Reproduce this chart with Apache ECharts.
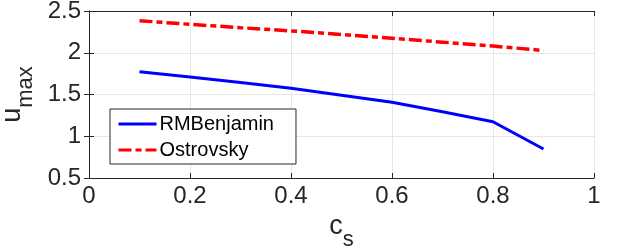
<!DOCTYPE html>
<html>
<head>
<meta charset="utf-8">
<script src="https://cdn.jsdelivr.net/npm/echarts@6/dist/echarts.min.js"></script>
<style>
html,body{margin:0;padding:0;background:#fff;}
#chart{width:623px;height:252px;}
</style>
</head>
<body>
<div id="chart"></div>
<script>
const cs = [0.1, 0.2, 0.3, 0.4, 0.5, 0.6, 0.7, 0.8, 0.9];
const rmBenjamin = [1.773, 1.71, 1.645, 1.574, 1.49, 1.406, 1.294, 1.174, 0.847];
const ostrovsky = [2.384, 2.34, 2.30, 2.262, 2.218, 2.173, 2.127, 2.08, 2.027];
const seriesNames = ['RMBenjamin', 'Ostrovsky'];
const xTicks = [0, 0.2, 0.4, 0.6, 0.8, 1];
const yTicks = [0.5, 1, 1.5, 2, 2.5];

const FONT = '"Liberation Sans", Arial, Helvetica, sans-serif';
const AX = '#262626';

const chart = echarts.init(document.getElementById('chart'), null, {renderer: 'canvas'});

function fmt(v) { return String(Math.round(v * 10) / 10); }

const option = {
  animation: false,
  backgroundColor: '#fff',
  grid: {left: 89, right: 29, top: 11, bottom: 74, containLabel: false, outerBoundsMode: 'none'},
  legend: {
    left: 110, top: 109,
    orient: 'vertical',
    data: seriesNames,
    backgroundColor: '#fff',
    borderColor: AX,
    borderWidth: 1,
    borderRadius: 0,
    padding: [5, 22, 4, 7],
    itemWidth: 38,
    itemHeight: 20,
    itemGap: 6,
    itemStyle: {opacity: 0},
    lineStyle: {width: 3},
    textStyle: {fontFamily: FONT, fontSize: 20, color: '#000', padding: [0, 0, 0, -2]}
  },
  xAxis: [{
    type: 'value', min: xTicks[0], max: xTicks[xTicks.length - 1], interval: 0.2,
    position: 'bottom',
    axisLine: {show: true, lineStyle: {color: AX, width: 1}},
    axisTick: {show: true, inside: true, length: 5, lineStyle: {color: AX}},
    splitLine: {show: true, lineStyle: {color: '#e6e6e6', width: 1}},
    axisLabel: {fontFamily: FONT, fontSize: 24, color: AX, margin: 6, formatter: fmt},
    name: '{m|c}{s|s}',
    nameLocation: 'middle',
    nameGap: 34,
    nameTextStyle: {
      fontFamily: FONT,
      rich: {
        m: {fontFamily: FONT, fontSize: 27, color: AX, verticalAlign: 'top'},
        s: {fontFamily: FONT, fontSize: 22, color: AX, padding: [16, 0, 0, 0], verticalAlign: 'top'}
      }
    }
  }, {
    type: 'value', min: xTicks[0], max: xTicks[xTicks.length - 1], interval: 0.2,
    position: 'top',
    axisLine: {show: true, lineStyle: {color: AX, width: 1}},
    axisTick: {show: true, inside: true, length: 5, lineStyle: {color: AX}},
    splitLine: {show: false},
    axisLabel: {show: false}
  }],
  yAxis: [{
    type: 'value', min: yTicks[0], max: yTicks[yTicks.length - 1], interval: 0.5,
    position: 'left',
    axisLine: {show: true, lineStyle: {color: AX, width: 1}},
    axisTick: {show: true, inside: true, length: 5, lineStyle: {color: AX}},
    splitLine: {show: true, lineStyle: {color: '#e6e6e6', width: 1}},
    axisLabel: {fontFamily: FONT, fontSize: 24, color: AX, margin: 8, formatter: fmt},
    name: '{m|u}{s|max}',
    nameLocation: 'middle',
    nameRotate: 90,
    nameGap: 52,
    nameTextStyle: {
      fontFamily: FONT,
      rich: {
        m: {fontFamily: FONT, fontSize: 27, color: AX, verticalAlign: 'top'},
        s: {fontFamily: FONT, fontSize: 22, color: AX, padding: [16, 0, 0, 0], verticalAlign: 'top'}
      }
    }
  }, {
    type: 'value', min: yTicks[0], max: yTicks[yTicks.length - 1], interval: 0.5,
    position: 'right',
    axisLine: {show: true, lineStyle: {color: AX, width: 1}},
    axisTick: {show: true, inside: true, length: 5, lineStyle: {color: AX}},
    splitLine: {show: false},
    axisLabel: {show: false}
  }],
  series: [{
    name: seriesNames[0],
    type: 'line',
    data: cs.map((x, i) => [x, rmBenjamin[i]]),
    symbol: 'none',
    showSymbol: false,
    lineStyle: {color: '#0000ff', width: 3},
    itemStyle: {color: '#0000ff'},
    z: 3
  }, {
    name: seriesNames[1],
    type: 'line',
    data: cs.map((x, i) => [x, ostrovsky[i]]),
    symbol: 'none',
    showSymbol: false,
    lineStyle: {color: '#ff0000', width: 3.5, type: [13, 4, 6, 4]},
    itemStyle: {color: '#ff0000'},
    z: 3
  }]
};
chart.setOption(option);
</script>
</body>
</html>
